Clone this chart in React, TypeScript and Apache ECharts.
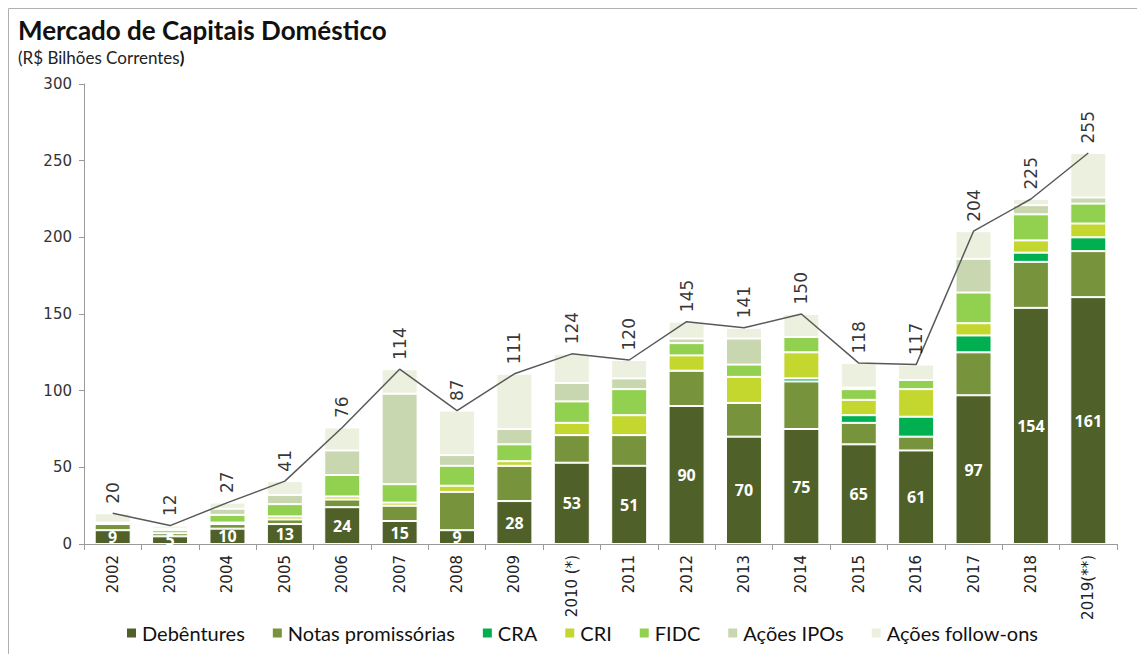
import React, { useEffect, useRef } from "react";
import * as echarts from "echarts";

const years = ["2002", "2003", "2004", "2005", "2006", "2007", "2008", "2009", "2010 (*)", "2011", "2012", "2013", "2014", "2015", "2016", "2017", "2018", "2019(**)"];
const debentures = [9, 5, 10, 13, 24, 15, 9, 28, 53, 51, 90, 70, 75, 65, 61, 97, 154, 161];
const notas = [4, 2, 3, 3, 5, 10, 25, 23, 18, 20, 23, 22, 31, 14, 9, 28, 30, 30];
const cra = [0, 0, 0, 0, 0, 0, 0, 0, 0, 0, 0, 0, 2, 5, 13, 11, 6, 9];
const cri = [0, 0, 1, 2, 2, 2, 4, 3, 8, 13, 10, 17, 17, 10, 18, 8, 8, 9];
const fidc = [1, 2, 5, 8, 14, 12, 13, 11, 14, 17, 8, 8, 10, 7, 6, 20, 17, 13];
const ipos = [0, 1, 4, 6, 16, 59, 7, 10, 12, 7, 3, 17, 0, 1, 0, 22, 6, 4];
const followOns = [6, 2, 4, 9, 15, 16, 29, 36, 19, 12, 11, 7, 15, 16, 10, 18, 4, 29];
const totals = [20, 12, 27, 41, 76, 114, 87, 111, 124, 120, 145, 141, 150, 118, 117, 204, 225, 255];
const yTicks = { min: 0, max: 300, interval: 50 };

const seriesDefs = [
  { name: "Debêntures", data: debentures, color: "#4f6128" },
  { name: "Notas promissórias", data: notas, color: "#77933c" },
  { name: "CRA", data: cra, color: "#00b050" },
  { name: "CRI", data: cri, color: "#c3d72f" },
  { name: "FIDC", data: fidc, color: "#92d050" },
  { name: "Ações IPOs", data: ipos, color: "#c9d7b1" },
  { name: "Ações follow-ons", data: followOns, color: "#ebf1de" },
];

export default function App() {
  const ref = useRef<HTMLDivElement>(null);
  useEffect(() => {
    if (!ref.current) return;
    const chart = echarts.init(ref.current, null, { renderer: "svg" });
    const font = "Lato, 'Open Sans', sans-serif";
    const bars = seriesDefs.map((s, i) => ({
      name: s.name,
      type: "bar",
      stack: "total",
      barWidth: 36,
      data: s.data,
      itemStyle: { color: s.color, borderColor: "#ffffff", borderWidth: 1 },
      label:
        i === 0
          ? {
              show: true,
              position: "inside",
              color: "#ffffff",
              fontWeight: "bold",
              fontSize: 16,
              fontFamily: "'Open Sans', sans-serif",
            }
          : { show: false },
      emphasis: { disabled: true },
    }));
    chart.setOption({
      animation: false,
      backgroundColor: "#ffffff",
      grid: { left: 84, right: 20, top: 84, bottom: 110, containLabel: false },
      legend: {
        data: seriesDefs.map((s) => s.name),
        bottom: 6,
        left: 120,
        icon: "rect",
        itemWidth: 11,
        itemHeight: 11,
        itemGap: 26,
        textStyle: { fontSize: 20, color: "#111", fontFamily: font },
      },
      xAxis: {
        type: "category",
        data: years,
        axisLine: { lineStyle: { color: "#9a9a9a" } },
        axisTick: { show: true, length: 6, lineStyle: { color: "#9a9a9a" } },
        axisLabel: {
          rotate: 90,
          fontSize: 15,
          color: "#222",
          margin: 11,
          fontFamily: "'DejaVu Sans', sans-serif",
        },
      },
      yAxis: {
        type: "value",
        min: yTicks.min,
        max: yTicks.max,
        interval: yTicks.interval,
        axisLine: { show: true, lineStyle: { color: "#9a9a9a" } },
        axisTick: { show: true, length: 5, lineStyle: { color: "#9a9a9a" } },
        splitLine: { show: false },
        axisLabel: { fontSize: 15, color: "#333", margin: 12, fontFamily: "'DejaVu Sans', sans-serif" },
      },
      series: [
        ...bars,
        {
          name: "Total",
          type: "line",
          data: totals,
          symbol: "none",
          z: 10,
          lineStyle: { color: "#595959", width: 1.5 },
          label: { show: false },
          emphasis: { disabled: true },
        },
        {
          name: "TotalLabels",
          type: "scatter",
          data: totals,
          symbolSize: 1,
          itemStyle: { color: "rgba(0,0,0,0)" },
          z: 11,
          label: {
            show: true,
            position: "top",
            rotate: 90,
            distance: 9,
            align: "left",
            verticalAlign: "middle",
            fontSize: 17,
            color: "#000",
            fontFamily: "'DejaVu Sans', sans-serif",
          },
          emphasis: { disabled: true },
        },
      ],
      graphic: [
        {
          type: "line",
          shape: { x1: 8.5, y1: 8.5, x2: 1137, y2: 8.5 },
          style: { stroke: "#b0b0b0", lineWidth: 1 },
        },
        {
          type: "line",
          shape: { x1: 8.5, y1: 8.5, x2: 8.5, y2: 654 },
          style: { stroke: "#b0b0b0", lineWidth: 1 },
        },
        {
          type: "text",
          left: 18,
          top: 17,
          style: {
            text: "Mercado de Capitais Doméstico",
            fontSize: 26,
            fontWeight: "bold",
            fill: "#111",
            fontFamily: font,
          },
        },
        {
          type: "text",
          left: 18,
          top: 49,
          style: {
            text: "{a|(R$ Bilhões Correntes}{b|)}",
            rich: {
              a: { fontSize: 17, fill: "#222", fontFamily: font },
              b: { fontSize: 17, fill: "#111", fontWeight: "bold", fontFamily: font },
            },
          },
        },
      ],
    });
    return () => chart.dispose();
  }, []);
  return (
    <div
      ref={ref}
      style={{ position: "absolute", left: 0, top: 0, width: 1137, height: 654 }}
    />
  );
}
